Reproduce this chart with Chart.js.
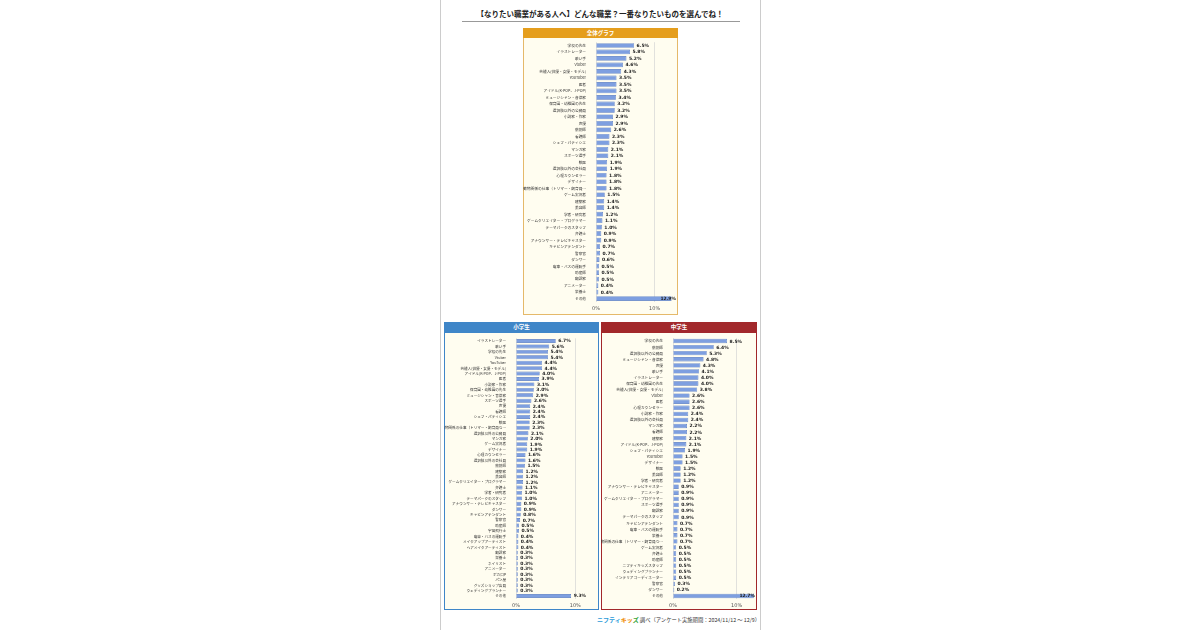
<!DOCTYPE html>
<html lang="ja">
<head>
<meta charset="UTF-8">
<title>なりたい職業</title>
<script src="https://cdn.jsdelivr.net/npm/chart.js"></script>
<style>
  body { margin: 0; width: 1200px; height: 630px; background: #fff; position: relative; overflow: hidden;
         font-family: "Noto Sans CJK JP", "Noto Sans", sans-serif; }
  #page { position: absolute; left: 440px; top: -1px; width: 319px; height: 630px; border: 1px solid #ccc; }
  #title { position: absolute; left: 440px; width: 320px; top: 9px; text-align: center; font-size: 7.5px;
           font-weight: bold; color: #222; line-height: 10px; }
  #rule { position: absolute; left: 462px; width: 278px; top: 21px; border-top: 1px solid #999; }
  .head { position: absolute; color: #fff; font-size: 5.5px; font-weight: bold; text-align: center; box-sizing: border-box; }
  .panel { position: absolute; background: #fffdf0; box-sizing: border-box; border: 1px solid; border-top: none; }
  .panel canvas { position: absolute; left: -1px; top: 0; }
  #foot { position: absolute; left: 597px; top: 616px; font-size: 5.3px; color: #333; white-space: nowrap; line-height: 8px; }
  #foot b { font-size: 6px; }
</style>
</head>
<body>
<div id="page"></div>
<div id="title">【なりたい職業がある人へ】どんな職業？一番なりたいものを選んでね！</div>
<div id="rule"></div>

<div class="head" style="left:523px;top:28px;width:155px;height:10px;line-height:10px;background:#e59e1d;">全体グラフ</div>
<div class="panel" style="left:523px;top:38px;width:155px;height:277px;border-color:#e5b96a;">
  <canvas id="zentai" width="155" height="277"></canvas>
</div>

<div class="head" style="left:444px;top:322px;width:155px;height:11px;line-height:11px;background:#3f86c8;">小学生</div>
<div class="panel" style="left:444px;top:333px;width:155px;height:277px;border-color:#3f86c8;">
  <canvas id="shogaku" width="155" height="277"></canvas>
</div>

<div class="head" style="left:601px;top:322px;width:156px;height:11px;line-height:11px;background:#a2282b;">中学生</div>
<div class="panel" style="left:601px;top:333px;width:156px;height:277px;border-color:#a2282b;">
  <canvas id="chugaku" width="156" height="277"></canvas>
</div>

<div id="foot"><b><span style="color:#2a9ad8">ニフティ</span><span style="color:#f08a00">キッ</span><span style="color:#3aa53a">ズ</span></b> 調べ（アンケート実施期間：2024/11/12 ～ 12/9）</div>

<script>
const zentaiLabels = ['学校の先生', 'イラストレーター', '歌い手', 'Vtuber', '芸能人(俳優・女優・モデル)', 'YouTuber', '医者',
  'アイドル(K-POP、J-POP)', 'ミュージシャン・音楽家', '保育園・幼稚園の先生', '選択肢以外の公務員', '小説家・作家', '声優',
  '薬剤師', '看護師', 'シェフ・パティシエ', 'マンガ家', 'スポーツ選手', '獣医', '選択肢以外の会社員', '心理カウンセラー',
  'デザイナー', '動物関係の仕事（トリマー・飼育員…', 'ゲーム実況者', '建築家', '美容師', '学者・研究者',
  'ゲームクリエイター・プログラマー', 'テーマパークのスタッフ', '弁護士', 'アナウンサー・テレビキャスター',
  'キャビンアテンダント', '警察官', 'ダンサー', '電車・バスの運転手', '助産師', '翻訳家', 'アニメーター', '栄養士', 'その他'];
const zentaiValues = [6.5, 5.8, 5.2, 4.6, 4.3, 3.5, 3.5, 3.5, 3.4, 3.2, 3.2, 2.9, 2.9, 2.6, 2.3, 2.3, 2.1, 2.1, 1.9, 1.9,
  1.8, 1.8, 1.8, 1.5, 1.4, 1.4, 1.2, 1.1, 1.0, 0.9, 0.9, 0.7, 0.7, 0.6, 0.5, 0.5, 0.5, 0.4, 0.4, 12.9];

const shogakuLabels = ['イラストレーター', '歌い手', '学校の先生', 'Vtuber', 'YouTuber', '芸能人(俳優・女優・モデル)',
  'アイドル(K-POP、J-POP)', '医者', '小説家・作家', '保育園・幼稚園の先生', 'ミュージシャン・音楽家', 'スポーツ選手',
  '声優', '看護師', 'シェフ・パティシエ', '獣医', '動物関係の仕事（トリマー・飼育員な…', '選択肢以外の公務員', 'マンガ家',
  'ゲーム実況者', 'デザイナー', '心理カウンセラー', '選択肢以外の会社員', '薬剤師', '建築家', '美容師',
  'ゲームクリエイター・プログラマー', '弁護士', '学者・研究者', 'テーマパークのスタッフ', 'アナウンサー・テレビキャスター',
  'ダンサー', 'キャビンアテンダント', '警察官', '助産師', '宇宙飛行士', '電車・バスの運転手', 'メイクアップアーティスト',
  'ヘアメイクアーティスト', '翻訳家', '栄養士', 'ネイリスト', 'アニメーター', 'ボカロP', 'パン屋', 'グッズショップ店員',
  'ウェディングプランナー', 'その他'];
const shogakuValues = [6.7, 5.6, 5.4, 5.4, 4.4, 4.4, 4.0, 3.9, 3.1, 3.0, 2.9, 2.6, 2.4, 2.4, 2.4, 2.3, 2.3, 2.1, 2.0,
  1.9, 1.9, 1.6, 1.6, 1.5, 1.2, 1.2, 1.2, 1.1, 1.0, 1.0, 0.9, 0.9, 0.8, 0.7, 0.5, 0.5, 0.4, 0.4, 0.4, 0.3, 0.3, 0.3,
  0.3, 0.3, 0.3, 0.3, 0.3, 9.3];

const chugakuLabels = ['学校の先生', '薬剤師', '選択肢以外の公務員', 'ミュージシャン・音楽家', '声優', '歌い手',
  'イラストレーター', '保育園・幼稚園の先生', '芸能人(俳優・女優・モデル)', 'Vtuber', '医者', '心理カウンセラー',
  '小説家・作家', '選択肢以外の会社員', 'マンガ家', '看護師', '建築家', 'アイドル(K-POP、J-POP)', 'シェフ・パティシエ',
  'YouTuber', 'デザイナー', '獣医', '美容師', '学者・研究者', 'アナウンサー・テレビキャスター', 'アニメーター',
  'ゲームクリエイター・プログラマー', 'スポーツ選手', '翻訳家', 'テーマパークのスタッフ', 'キャビンアテンダント',
  '電車・バスの運転手', '栄養士', '動物関係の仕事（トリマー・飼育員な…', 'ゲーム実況者', '弁護士', '助産師',
  'ニフティキッズスタッフ', 'ウェディングプランナー', 'インテリアコーディネーター', '警察官', 'ダンサー', 'その他'];
const chugakuValues = [8.5, 6.4, 5.3, 4.8, 4.3, 4.1, 4.0, 4.0, 3.8, 2.6, 2.6, 2.6, 2.4, 2.4, 2.2, 2.2, 2.1, 2.1, 1.9,
  1.5, 1.5, 1.2, 1.2, 1.2, 0.9, 0.9, 0.9, 0.9, 0.9, 0.9, 0.7, 0.7, 0.7, 0.7, 0.5, 0.5, 0.5, 0.5, 0.5, 0.5, 0.3, 0.2, 12.7];

// percent text at the end of each bar
const valueLabels = {
  id: 'valueLabels',
  afterDatasetsDraw(chart) {
    const ctx = chart.ctx;
    const meta = chart.getDatasetMeta(0);
    ctx.save();
    ctx.font = 'bold 4.5px "DejaVu Sans"';
    ctx.fillStyle = '#222';
    ctx.textBaseline = 'middle';
    meta.data.forEach((bar, i) => {
      const t = chart.data.datasets[0].data[i].toFixed(1) + '%';
      const w = ctx.measureText(t).width;
      const x = Math.min(bar.x + 2.5, chart.width - w - 2);
      ctx.fillText(t, x, bar.y + 0.3);
    });
    ctx.restore();
  }
};

function drawChart(id, labels, values, o) {
  return new Chart(document.getElementById(id), {
    type: 'bar',
    data: {
      labels: labels,
      datasets: [{
        data: values,
        backgroundColor: '#7e9fe0',
        borderColor: '#4a6fbd',
        borderWidth: 0.6,
        categoryPercentage: 1,
        barPercentage: 0.72
      }]
    },
    options: {
      indexAxis: 'y',
      responsive: false,
      animation: false,
      layout: { padding: { top: o.top, bottom: o.bottom, left: 0, right: 0 } },
      plugins: { legend: { display: false }, tooltip: { enabled: false } },
      scales: {
        x: {
          min: 0,
          max: o.max,
          ticks: {
            stepSize: 10,
            includeBounds: false,
            callback: v => v + '%',
            font: { size: 5, family: '"DejaVu Sans"' },
            color: '#555',
            padding: 4,
            maxRotation: 0
          },
          grid: { color: '#d4d4d4', lineWidth: 0.7, drawTicks: false },
          border: { display: false },
          afterFit: s => { s.height = 10; }
        },
        y: {
          ticks: {
            font: { size: o.fs, family: '"Noto Sans CJK JP"' },
            color: '#333',
            padding: 2,
            autoSkip: false
          },
          grid: { display: false },
          border: { display: false },
          afterFit: s => { s.width = o.labelW; }
        }
      }
    },
    plugins: [valueLabels]
  });
}

drawChart('zentai', zentaiLabels, zentaiValues, { top: 3.2, bottom: 3.2, max: 14, fs: 3.7, labelW: 73 });
drawChart('shogaku', shogakuLabels, shogakuValues, { top: 5.3, bottom: 1.3, max: 14, fs: 3.6, labelW: 72 });
drawChart('chugaku', chugakuLabels, chugakuValues, { top: 5, bottom: 1, max: 13.2, fs: 3.7, labelW: 72 });
</script>
</body>
</html>
